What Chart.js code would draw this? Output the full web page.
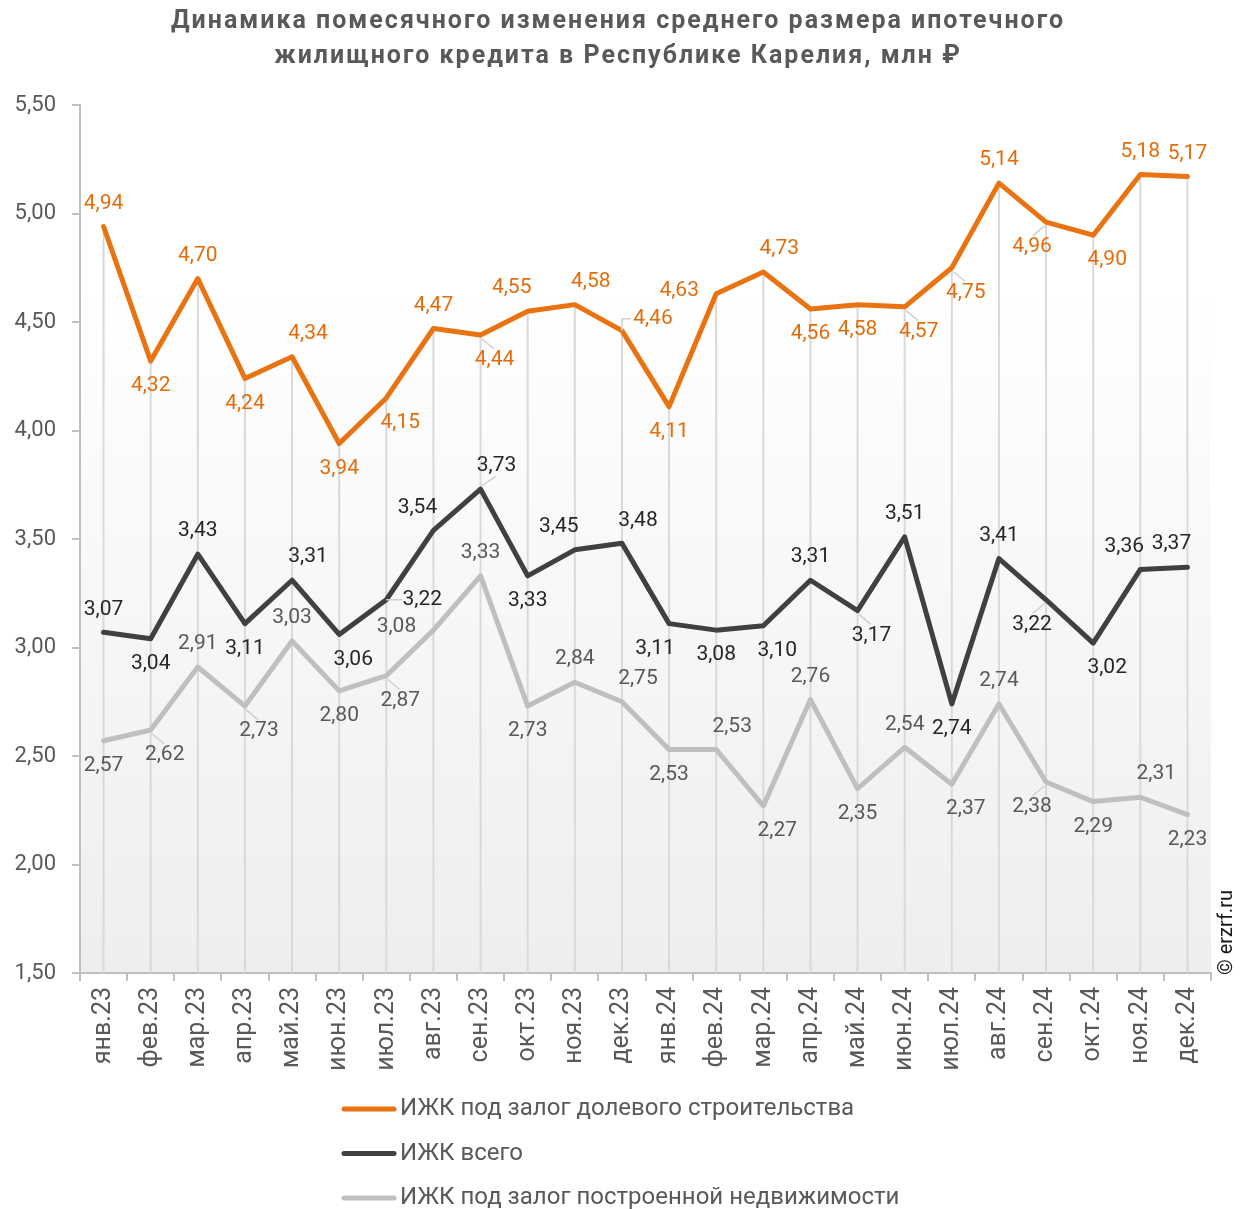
<!DOCTYPE html>
<html lang="ru">
<head>
<meta charset="utf-8">
<title>ИЖК Республика Карелия</title>
<script src="https://cdn.jsdelivr.net/npm/chart.js@4.4.1/dist/chart.umd.min.js"></script>
<style>
    html, body { margin: 0; padding: 0; background: #fff; }
    #contenedor { width: 1254px; height: 1209px; position: relative; }
</style>
</head>
<body>
<div id="contenedor"><canvas id="grafico"></canvas></div>
<script>
// datos del grafico
const titulo = ['Динамика помесячного изменения среднего размера ипотечного',
                'жилищного кредита в Республике Карелия, млн ₽'];

const meses = ['янв.23', 'фев.23', 'мар.23', 'апр.23', 'май.23', 'июн.23', 'июл.23', 'авг.23', 'сен.23', 'окт.23', 'ноя.23', 'дек.23',
               'янв.24', 'фев.24', 'мар.24', 'апр.24', 'май.24', 'июн.24', 'июл.24', 'авг.24', 'сен.24', 'окт.24', 'ноя.24', 'дек.24'];

const dolevoe = [4.94, 4.32, 4.70, 4.24, 4.34, 3.94, 4.15, 4.47, 4.44, 4.55, 4.58, 4.46,
                 4.11, 4.63, 4.73, 4.56, 4.58, 4.57, 4.75, 5.14, 4.96, 4.90, 5.18, 5.17];
const vsego = [3.07, 3.04, 3.43, 3.11, 3.31, 3.06, 3.22, 3.54, 3.73, 3.33, 3.45, 3.48,
               3.11, 3.08, 3.10, 3.31, 3.17, 3.51, 2.74, 3.41, 3.22, 3.02, 3.36, 3.37];
const postroennoe = [2.57, 2.62, 2.91, 2.73, 3.03, 2.80, 2.87, 3.08, 3.33, 2.73, 2.84, 2.75,
                     2.53, 2.53, 2.27, 2.76, 2.35, 2.54, 2.37, 2.74, 2.38, 2.29, 2.31, 2.23];

const ejeY = { min: 1.5, max: 5.5, paso: 0.5 };

// donde va cada etiqueta (t = arriba, b = abajo, * = con linea guia)
const posDolevoe = ['t', 'b', 't', 'b', 'tr', 'b', 'br', 't', 'br*', 'tl', 'tr', 'rt',
                    'b', 'l', 'tr', 'b', 'b', 'br*', 'br*', 't', 'bl*', 'br', 't', 't'];
const posVsego = ['t', 'b', 't', 'b', 'tr', 'br', 'r*', 'tl', 'tr*', 'b', 'tl', 'tr',
                  'bl', 'b', 'br', 't', 'br*', 't', 'b', 't', 'bl*', 'br', 'tl', 'tl'];
const posPostroennoe = ['b', 'br*', 't', 'br*', 't', 'b', 'br*', 'l', 't', 'b', 't', 'tr',
                        'b', 'tr', 'br', 't', 'b', 't', 'br', 't', 'bl*', 'b', 'tr', 'b'];

const desplaz = {
    t: [0, -23], b: [0, 25], tl: [-16, -23], tr: [16, -23],
    bl: [-14, 25], br: [14, 25], l: [-37, -3], r: [36, 0], rt: [31, -12]
};

const fmt = v => v.toFixed(2).replace('.', ',');

// fondo degradado del area + titulo con espaciado
const fondo = {
    id: 'fondo',
    beforeDraw(chart) {
        const { ctx, chartArea: a } = chart;
        const g = ctx.createLinearGradient(0, a.top, 0, a.bottom);
        g.addColorStop(0, '#ffffff');
        g.addColorStop(0.22, '#ffffff');
        g.addColorStop(1, '#eeeeee');
        ctx.save();
        ctx.fillStyle = g;
        ctx.fillRect(a.left, a.top, a.right - a.left, a.bottom - a.top);

        ctx.font = 'bold 25px Roboto';
        ctx.letterSpacing = '2px';
        ctx.fillStyle = '#595959';
        ctx.textAlign = 'center';
        ctx.textBaseline = 'middle';
        titulo.forEach((linea, i) => ctx.fillText(linea, 618, 22 + i * 35));
        ctx.restore();
    }
};

// lineas verticales desde el punto mas alto hasta el eje
const lineasVert = {
    id: 'lineasVert',
    beforeDatasetsDraw(chart) {
        const { ctx, scales } = chart;
        ctx.save();
        ctx.strokeStyle = '#d9d9d9';
        ctx.lineWidth = 2;
        meses.forEach((m, i) => {
            const maximo = Math.max(dolevoe[i], vsego[i], postroennoe[i]);
            const x = scales.x.getPixelForValue(i);
            ctx.beginPath();
            ctx.moveTo(x, scales.y.getPixelForValue(maximo));
            ctx.lineTo(x, scales.y.bottom);
            ctx.stroke();
        });
        ctx.restore();
    }
};

// etiquetas de valores
const etiquetas = {
    id: 'etiquetas',
    afterDatasetsDraw(chart) {
        const ctx = chart.ctx;
        ctx.save();
        ctx.font = '21px Roboto';
        ctx.textAlign = 'center';
        ctx.textBaseline = 'middle';
        chart.data.datasets.forEach((ds, i) => {
            const meta = chart.getDatasetMeta(i);
            meta.data.forEach((pt, j) => {
                let code = ds.posiciones[j];
                const guia = code.endsWith('*') || code === 'rt';
                code = code.replace('*', '');
                const [dx, dy] = desplaz[code];
                const x = pt.x + dx, y = pt.y + dy;
                if (guia) {
                    ctx.strokeStyle = '#d0d0d0';
                    ctx.lineWidth = 1.5;
                    ctx.beginPath();
                    if (code === 'rt') {
                        ctx.moveTo(pt.x, pt.y);
                        ctx.lineTo(pt.x, y);
                        ctx.lineTo(x - 22, y);
                    } else if (code === 'r') {
                        ctx.moveTo(pt.x, pt.y);
                        ctx.lineTo(x - 20, y);
                    } else {
                        ctx.moveTo(pt.x + dx * 0.1, pt.y + dy * 0.15);
                        ctx.lineTo(pt.x + dx * 0.95, pt.y + dy * 0.55);
                    }
                    ctx.stroke();
                }
                ctx.fillStyle = ds.colorEtiqueta;
                ctx.fillText(fmt(ds.data[j]), x, y);
            });
        });
        ctx.restore();
    }
};

// leyenda vertical abajo y copyright
const leyenda = {
    id: 'leyenda',
    afterDraw(chart) {
        const ctx = chart.ctx;
        ctx.save();
        ctx.font = '24px Roboto';
        ctx.textBaseline = 'middle';
        chart.data.datasets.forEach((ds, i) => {
            const y = 1109 + i * 44.5;
            ctx.strokeStyle = ds.borderColor;
            ctx.lineWidth = 5;
            ctx.lineCap = 'round';
            ctx.beginPath();
            ctx.moveTo(344, y);
            ctx.lineTo(394, y);
            ctx.stroke();
            ctx.fillStyle = '#595959';
            ctx.fillText(ds.label, 400, y);
        });
        ctx.translate(1227, 975);
        ctx.rotate(-Math.PI / 2);
        ctx.font = '20px Roboto';
        ctx.fillStyle = '#1a1a1a';
        ctx.textAlign = 'left';
        ctx.fillText('© erzrf.ru', 0, 0);
        ctx.restore();
    }
};

const ctxGrafico = document.getElementById('grafico').getContext('2d');

new Chart(ctxGrafico, {
    type: 'line',
    data: {
        labels: meses,
        datasets: [{
            label: 'ИЖК под залог долевого строительства',
            data: dolevoe,
            borderColor: '#E97311',
            colorEtiqueta: '#E46C0A',
            posiciones: posDolevoe
        }, {
            label: 'ИЖК всего',
            data: vsego,
            borderColor: '#404040',
            colorEtiqueta: '#262626',
            posiciones: posVsego
        }, {
            label: 'ИЖК под залог построенной недвижимости',
            data: postroennoe,
            borderColor: '#BFBFBF',
            colorEtiqueta: '#595959',
            posiciones: posPostroennoe
        }]
    },
    options: {
        responsive: true,
        maintainAspectRatio: false,
        animation: false,
        datasets: {
            line: {
                borderWidth: 5,
                pointRadius: 0,
                tension: 0,
                borderJoinStyle: 'round',
                borderCapStyle: 'round',
                fill: false
            }
        },
        layout: {
            padding: { left: 0, right: 43, top: 105, bottom: 134 }
        },
        scales: {
            x: {
                offset: true,
                afterFit: s => { s.height = 102; },
                grid: {
                    offset: true,
                    drawOnChartArea: false,
                    tickLength: 8,
                    color: '#bfbfbf',
                    lineWidth: 2
                },
                border: { color: '#bfbfbf', width: 2 },
                ticks: {
                    minRotation: 90,
                    maxRotation: 90,
                    padding: 6,
                    color: '#595959',
                    font: { family: 'Roboto', size: 25 }
                }
            },
            y: {
                min: ejeY.min,
                max: ejeY.max,
                afterFit: s => { s.width = 80; },
                grid: {
                    drawOnChartArea: false,
                    tickLength: 8,
                    color: '#bfbfbf',
                    lineWidth: 2
                },
                border: { color: '#bfbfbf', width: 2 },
                ticks: {
                    stepSize: ejeY.paso,
                    padding: 16,
                    color: '#595959',
                    font: { family: 'Roboto', size: 22 },
                    callback: v => fmt(v)
                }
            }
        },
        plugins: {
            legend: { display: false },
            tooltip: { enabled: false },
            title: { display: false }
        }
    },
    plugins: [fondo, lineasVert, etiquetas, leyenda]
});
</script>
</body>
</html>
